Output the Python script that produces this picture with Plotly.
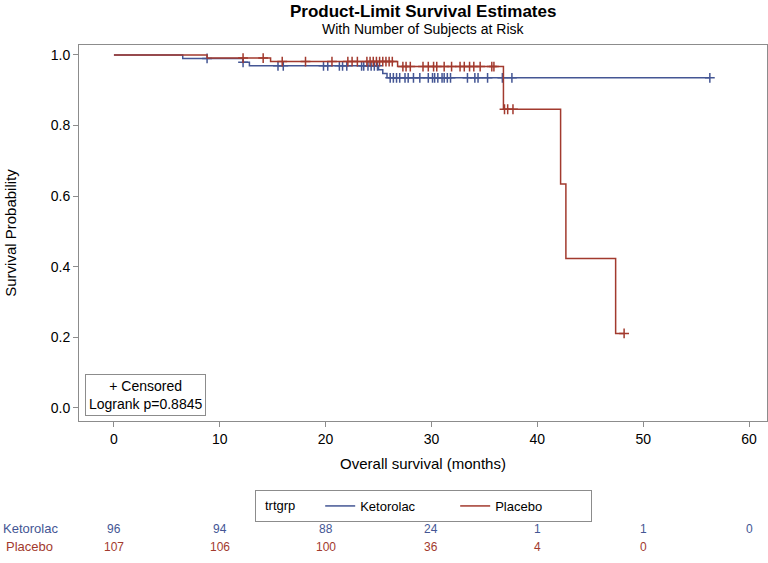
import plotly.graph_objects as go

# Kaplan-Meier step curves (time in months, survival probability)
keto_t = [0, 6.5, 12.2, 12.8, 25.0, 25.4, 25.8, 56.3]
keto_s = [1.0, 0.990, 0.979, 0.969, 0.958, 0.947, 0.935, 0.935]
plac_t = [0, 8.8, 14.8, 26.8, 36.8, 42.2, 42.7, 47.4, 48.2]
plac_s = [1.0, 0.991, 0.981, 0.967, 0.846, 0.634, 0.423, 0.211, 0.211]

# censored observations
keto_cens_t = [8.8, 12.2, 15.5, 16.0, 19.8, 20.2, 21.3, 21.6, 22.0, 23.4, 23.6,
               24.0, 24.3, 24.6, 24.9, 26.1, 26.4, 26.7, 27.0, 27.5, 27.8, 28.3,
               28.9, 29.7, 30.1, 30.3, 30.6, 31.0, 31.2, 31.5, 31.8, 33.4, 34.1,
               34.4, 35.3, 36.7, 37.6, 56.3]
plac_cens_t = [12.2, 14.1, 15.9, 18.1, 20.6, 22.1, 22.5, 23.0, 23.9, 24.2, 24.5,
               24.8, 25.1, 25.4, 25.7, 26.0, 26.3, 27.3, 27.6, 28.0, 29.2, 29.7,
               30.2, 30.5, 31.2, 31.9, 32.7, 33.1, 33.6, 34.0, 34.6, 35.7, 35.9,
               36.9, 37.2, 37.7, 48.2]

# number at risk
risk_times = [0, 10, 20, 30, 40, 50, 60]
keto_risk = [96, 94, 88, 24, 1, 1, 0]
plac_risk = [107, 106, 100, 36, 4, 0]

BLUE = "#445694"
RED = "#A23A2E"
FONT = "Liberation Sans, Arial, sans-serif"


def step_value(ts, ss, t):
    v = ss[0]
    for ti, si in zip(ts, ss):
        if ti <= t:
            v = si
    return v


fig = go.Figure()
for name, ts, ss, ct, col in [("Ketorolac", keto_t, keto_s, keto_cens_t, BLUE),
                              ("Placebo", plac_t, plac_s, plac_cens_t, RED)]:
    fig.add_trace(go.Scatter(x=ts, y=ss, mode="lines", name=name,
                             line=dict(color=col, width=1.5, shape="hv")))
    fig.add_trace(go.Scatter(x=ct, y=[step_value(ts, ss, t) for t in ct],
                             mode="markers", showlegend=False,
                             marker=dict(symbol="cross-thin", size=7,
                                         line=dict(color=col, width=1.5))))

axis_common = dict(showgrid=False, zeroline=False, showline=True, mirror=True,
                   linecolor="#8c8c8c", linewidth=1, ticks="outside",
                   tickcolor="#8c8c8c", ticklen=5, automargin=False,
                   tickfont=dict(family=FONT, size=14, color="black"))

fig.update_xaxes(range=[-3.3, 61.7], tickvals=risk_times,
                 title=dict(text="Overall survival (months)", standoff=12,
                            font=dict(family=FONT, size=15, color="black")),
                 **axis_common)
fig.update_yaxes(range=[-0.037, 1.028], tickvals=[0, 0.2, 0.4, 0.6, 0.8, 1.0],
                 tickformat=".1f",
                 title=dict(text="Survival Probability", standoff=30,
                            font=dict(family=FONT, size=15, color="black")),
                 **axis_common)

ann = [
    dict(text="<b>Product-Limit Survival Estimates</b>", x=0.5, y=1.0, xref="paper",
         yref="paper", yshift=34, showarrow=False, yanchor="middle",
         font=dict(family=FONT, size=17, color="black")),
    dict(text="With Number of Subjects at Risk", x=0.5, y=1.0, xref="paper",
         yref="paper", yshift=16, showarrow=False, yanchor="middle",
         font=dict(family=FONT, size=14, color="black")),
    dict(text="+ Censored<br>Logrank p=0.8845", x=0.009, y=0.013, xref="paper",
         yref="paper", xanchor="left", yanchor="bottom", showarrow=False,
         align="center", bordercolor="#8c8c8c", borderwidth=1, borderpad=3,
         bgcolor="white", font=dict(family=FONT, size=14, color="black")),
    dict(text="trtgrp", x=(263 - 79) / 688, y=-0.226, xref="paper", yref="paper",
         xanchor="left", yanchor="middle", showarrow=False,
         font=dict(family=FONT, size=13, color="black")),
    dict(text="Ketorolac", x=-0.028, y=-0.311, xref="paper", yref="paper",
         xanchor="right", showarrow=False, font=dict(family=FONT, size=13, color=BLUE)),
    dict(text="Placebo", x=-0.035, y=-0.359, xref="paper", yref="paper",
         xanchor="right", showarrow=False, font=dict(family=FONT, size=13, color=RED)),
]
for t, n in zip(risk_times, keto_risk):
    ann.append(dict(text=str(n), x=t, y=-0.311, xref="x", yref="paper",
                    showarrow=False, font=dict(family=FONT, size=12, color=BLUE)))
for t, n in zip(risk_times, plac_risk):
    ann.append(dict(text=str(n), x=t, y=-0.359, xref="x", yref="paper",
                    showarrow=False, font=dict(family=FONT, size=12, color=RED)))

fig.update_layout(
    width=768, height=563,
    margin=dict(l=79, r=1, t=45, b=142),
    plot_bgcolor="white", paper_bgcolor="white",
    annotations=ann,
    legend=dict(orientation="h", x=(255 - 79) / 688, y=-0.226, xanchor="left",
                yanchor="middle",
                title=dict(text="&nbsp;" * 15, side="left",
                           font=dict(family=FONT, size=13, color="black")),
                font=dict(family=FONT, size=13, color="black"),
                bordercolor="#8c8c8c", borderwidth=1, entrywidth=90),
)

fig.write_html("out.html", config={"displayModeBar": False},
               post_script="document.body.style.margin='0';")
